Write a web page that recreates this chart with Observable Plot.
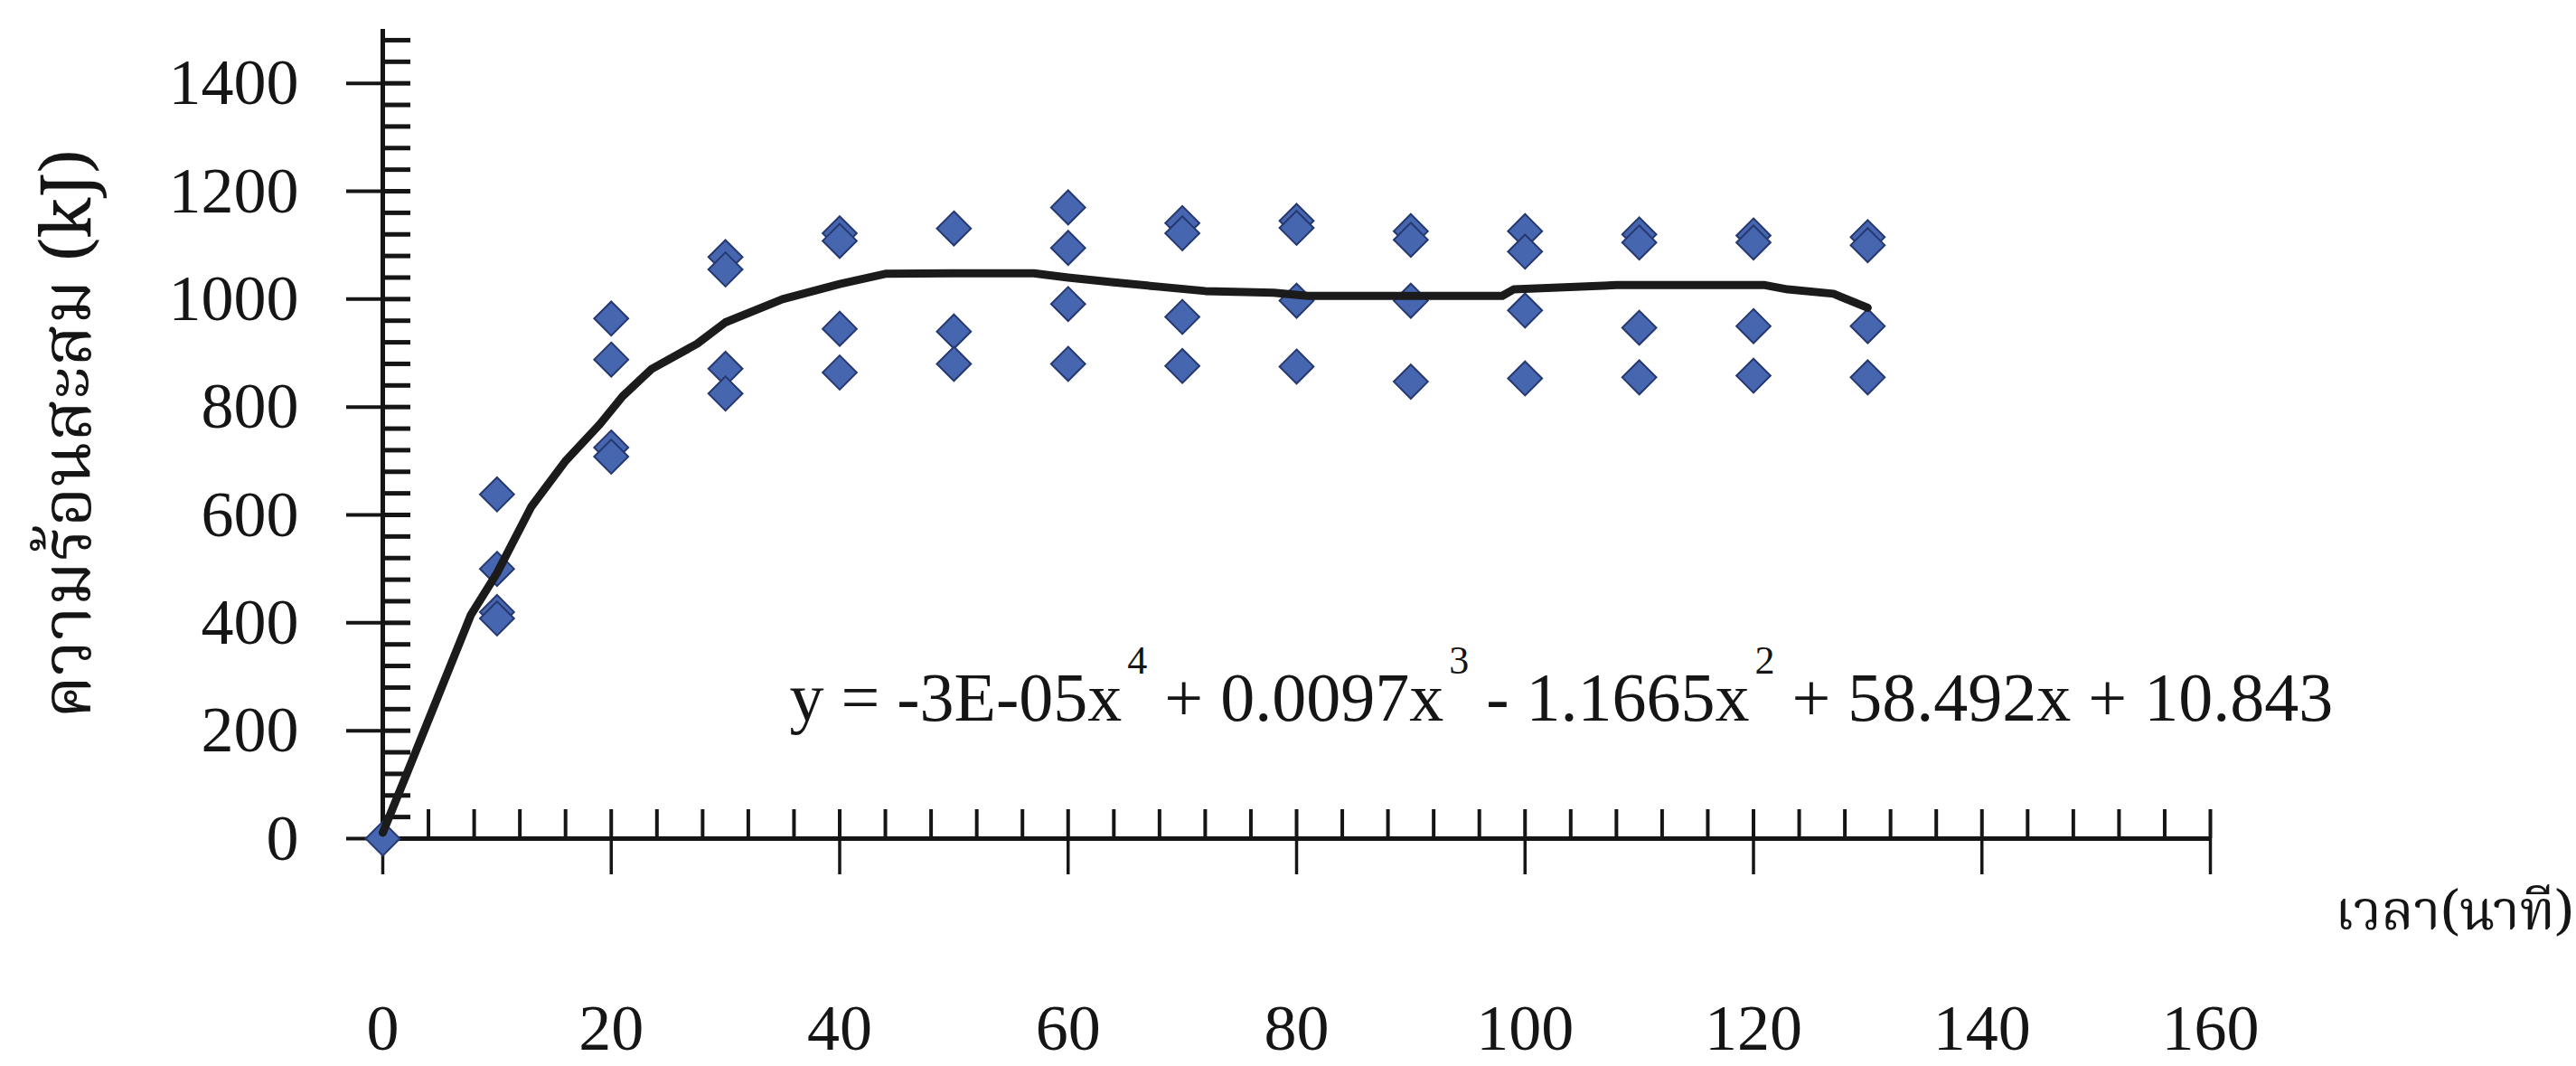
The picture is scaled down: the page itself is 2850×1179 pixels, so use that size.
<!DOCTYPE html>
<html>
<head>
<meta charset="utf-8">
<script src="https://cdn.jsdelivr.net/npm/d3@7"></script>
<script src="https://cdn.jsdelivr.net/npm/@observablehq/plot@0.6"></script>
<style>
  html, body { margin: 0; padding: 0; background: #ffffff; }
  #chart { width: 2850px; height: 1179px; }
</style>
</head>
<body>
<div id="chart"></div>
<script>
// ---- data ----
const pointTime = [0,
  10, 10, 10, 10,
  20, 20, 20, 20,
  30, 30, 30, 30,
  40, 40, 40, 40,
  50, 50, 50,
  60, 60, 60, 60,
  70, 70, 70, 70,
  80, 80, 80, 80,
  90, 90, 90, 90,
  100, 100, 100, 100,
  110, 110, 110, 110,
  120, 120, 120, 120,
  130, 130, 130, 130];
const pointHeat = [0,
  638, 500, 420, 408,
  964, 888, 725, 708,
  1078, 1055, 871, 825,
  1122, 1108, 945, 864,
  1131, 940, 880,
  1170, 1095, 991, 880,
  1141, 1122, 967, 876,
  1145, 1132, 997, 875,
  1126, 1110, 997, 847,
  1126, 1088, 979, 853,
  1120, 1105, 947, 855,
  1118, 1105, 950, 858,
  1115, 1100, 950, 855];

// polynomial trend line as drawn in the picture
const trendTime = [0, 2, 4.5, 7.7, 10, 13, 16, 19, 21, 23.5, 27.5, 30, 35, 40, 44, 50, 57, 60, 64, 68, 72, 78, 81, 90, 98, 99, 108, 121, 123, 127, 130];
const trendHeat = [11, 115, 246, 414, 492, 615, 700, 768, 820, 870, 917, 957, 1000, 1028, 1047, 1048, 1048, 1040, 1031, 1023, 1015, 1012, 1006, 1006, 1006, 1018, 1026, 1026, 1018, 1010, 984];

const xMajorTicks = [0, 20, 40, 60, 80, 100, 120, 140, 160];
const xMinorTicks = d3.range(0, 161, 4);
const yMajorTicks = [0, 200, 400, 600, 800, 1000, 1200, 1400];
const yMinorTicks = d3.range(0, 1481, 40);

const xDomain = [0, 160];
const yDomain = [0, 1500];

const yLabel = "ความร้อนสะสม (kJ)";
const xLabel = "เวลา(นาที)";
const equation = "y = -3E-05x\u2074 + 0.0097x\u00B3 - 1.1665x\u00B2 + 58.492x + 10.843";
const equationAt = {time: 35.6, heat: 218};

// ---- chart ----
const points = pointTime.map((t, i) => ({time: t, heat: pointHeat[i]}));
const trend = trendTime.map((t, i) => ({time: t, heat: trendHeat[i]}));

const serif = "'Liberation Serif', 'Times New Roman', serif";
const thai = "'Noto Serif Thai', 'Noto Sans Thai', 'Liberation Serif', serif";
const ink = "#151515";

const chart = Plot.plot({
  width: 2850,
  height: 1179,
  marginLeft: 423,
  marginRight: 405,
  marginTop: 32,
  marginBottom: 252,
  style: {fontFamily: serif, fontSize: "72px", color: ink, background: "#ffffff"},
  x: {domain: xDomain},
  y: {domain: yDomain},
  marks: [
    // inward minor ticks
    Plot.axisX(xMinorTicks, {tickSize: -32, fill: "none", stroke: ink, strokeWidth: 4}),
    Plot.axisY(yMinorTicks, {tickSize: -31, fill: "none", stroke: ink, strokeWidth: 5}),
    // outward major ticks with labels
    Plot.axisX(xMajorTicks, {tickSize: 40, tickPadding: 142, tickFormat: d3.format("d"), stroke: ink, strokeWidth: 3.5, fill: ink, fontSize: 72, label: null}),
    Plot.axisY(yMajorTicks, {tickSize: 40, tickPadding: 53, tickFormat: d3.format("d"), stroke: ink, strokeWidth: 4, fill: ink, fontSize: 72, label: null}),
    // axis lines
    Plot.ruleY([0], {stroke: ink, strokeWidth: 5}),
    Plot.ruleX([0], {stroke: ink, strokeWidth: 5}),
    // data
    Plot.dot(points, {x: "time", y: "heat", symbol: "diamond2", r: 17, fill: "#4667b0", stroke: "#263870", strokeWidth: 2}),
    Plot.line(trend, {x: "time", y: "heat", stroke: "#1b1b1b", strokeWidth: 9, strokeLinejoin: "round"}),
    // equation
    Plot.text([equation], {x: () => equationAt.time, y: () => equationAt.heat, text: d => d, textAnchor: "start", lineAnchor: "bottom", fontSize: 76, fontFamily: serif, fill: ink, className: "equation"}),
    // axis titles
    Plot.text([yLabel], {text: d => d, frameAnchor: "left", textAnchor: "middle", lineAnchor: "middle", rotate: -90, dx: -348, fontSize: 76, fontFamily: thai, fill: ink}),
    Plot.text([xLabel], {text: d => d, frameAnchor: "bottom-right", textAnchor: "end", dx: 402, dy: 100, fontSize: 60, fontFamily: thai, fill: ink})
  ]
});
document.getElementById("chart").appendChild(chart);

// raise the exponents of the equation like the original (text stays real text)
const supMap = {"\u2074": "4", "\u00B3": "3", "\u00B2": "2"};
d3.select(chart).selectAll("g.equation text").each(function () {
  const el = d3.select(this);
  const raw = el.text();
  el.text(null);
  const parts = raw.split(/([\u2074\u00B3\u00B2])/);
  let raised = false;
  parts.forEach(p => {
    if (!p) return;
    if (supMap[p]) {
      el.append("tspan").attr("dx", 6).attr("dy", -52).attr("font-size", 44).text(supMap[p]);
      raised = true;
    } else {
      const t = el.append("tspan").text(p);
      if (raised) { t.attr("dy", 52); raised = false; }
    }
  });
});
</script>
</body>
</html>
